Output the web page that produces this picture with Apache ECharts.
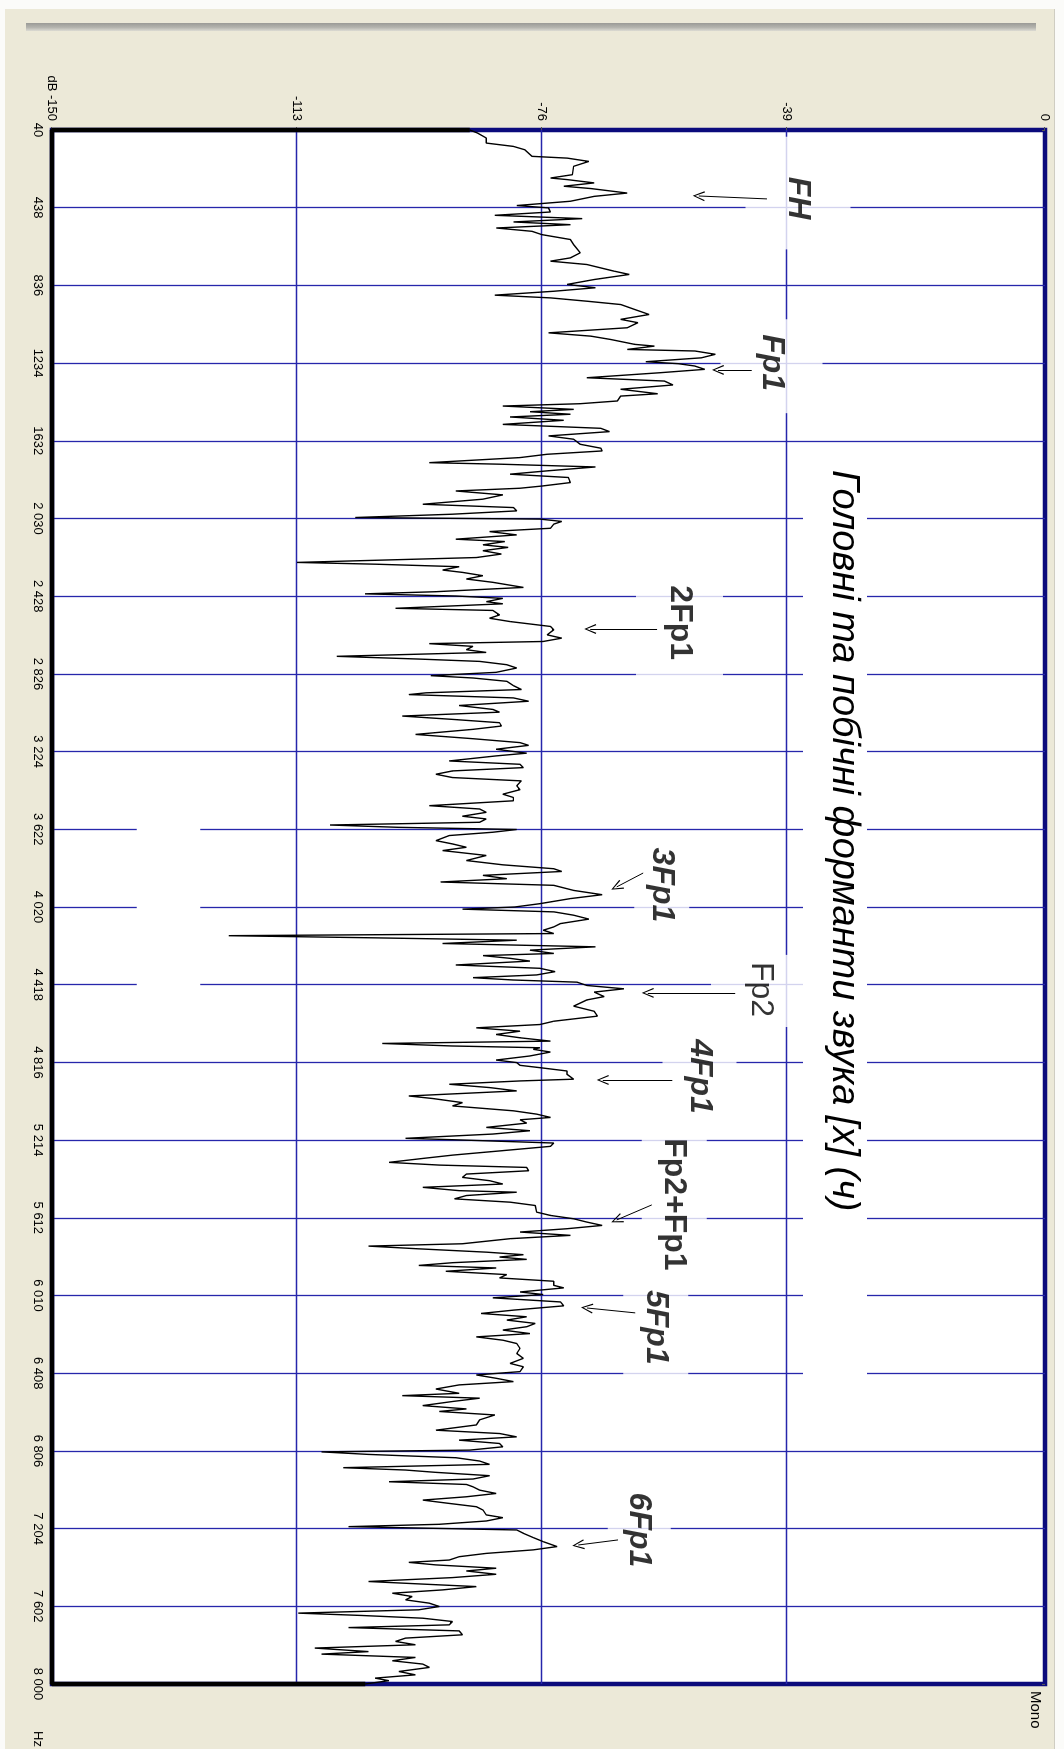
<!DOCTYPE html>
<html>
<head>
<meta charset="utf-8">
<script src="https://cdn.jsdelivr.net/npm/echarts@6/dist/echarts.min.js"></script>
<style>
  html, body { margin: 0; padding: 0; width: 1064px; height: 1749px; overflow: hidden; background: #fbfbf9; }
  #panel { position: absolute; left: 5px; top: 9px; width: 1049px; height: 1740px; background: #ece9d8; border-right: 1px solid #cfcdc2; }
  #bar { position: absolute; left: 26px; top: 23px; width: 1010px; height: 8px; background: linear-gradient(#9a9a96, #b4b4ae 55%, #dcdbd3); }
  /* the spectrum is laid out landscape and turned a quarter clockwise */
  #chart { position: absolute; left: 0; top: 0; width: 1749px; height: 1064px; transform-origin: 0 0; transform: translate(1064px, 0) rotate(90deg); }
</style>
</head>
<body>
<div id="panel"></div>
<div id="bar"></div>
<div id="chart"></div>
<script>
// Axis ticks
const freqTicks = [40, 438, 836, 1234, 1632, 2030, 2428, 2826, 3224, 3622, 4020, 4418, 4816, 5214, 5612, 6010, 6408, 6806, 7204, 7602, 8000];
const freqTickLabels = ['40', '438', '836', '1234', '1632', '2 030', '2 428', '2 826', '3 224', '3 622', '4 020', '4 418', '4 816', '5 214', '5 612', '6 010', '6 408', '6 806', '7 204', '7 602', '8 000'];
const dbTicks = [-150, -113, -76, -39, 0];
const dbTickLabels = ['dB -150', '-113', '-76', '-39', '0'];

// Spectrum of the sound: [frequency Hz, level dB]
const spectrum = [
  [40,-86.9],[56,-85.7],[81,-84.4],[107,-84.4],[124,-80.3],[141,-78.6],[175,-77.5],[184,-72.2],[201,-68.9],[226,-71.2],
  [269,-71.4],[286,-74.7],[294,-72.2],[311,-68.1],[328,-72.7],[340,-68.6],[363,-63.1],[380,-68.1],[405,-71.7],[427,-79.8],
  [439,-75.0],[460,-74.7],[477,-83.1],[494,-69.9],[511,-80.3],[525,-71.7],[542,-82.9],[559,-77.5],[576,-76.0],[601,-71.7],
  [627,-71.2],[669,-70.2],[695,-71.7],[712,-74.7],[729,-69.2],[763,-65.1],[780,-62.8],[806,-68.1],[831,-72.2],[848,-67.9],
  [866,-74.2],[886,-83.1],[900,-74.7],[917,-69.2],[934,-64.1],[959,-62.0],[985,-59.8],[1010,-64.1],[1027,-61.5],[1053,-63.1],
  [1079,-75.0],[1096,-68.6],[1113,-65.6],[1138,-62.0],[1147,-59.0],[1164,-63.1],[1172,-52.9],[1189,-49.8],[1207,-51.9],[1227,-60.3],
  [1237,-55.4],[1249,-52.9],[1266,-51.4],[1283,-58.0],[1309,-69.2],[1326,-57.5],[1346,-56.2],[1368,-64.1],[1391,-58.5],[1403,-64.1],
  [1428,-64.6],[1442,-70.2],[1454,-81.9],[1471,-71.2],[1483,-77.8],[1496,-71.7],[1510,-80.8],[1527,-72.7],[1548,-81.9],[1568,-67.1],
  [1585,-65.8],[1607,-75.0],[1624,-71.2],[1650,-70.2],[1670,-67.1],[1684,-66.9],[1701,-75.2],[1718,-79.3],[1744,-93.0],[1752,-82.1],
  [1766,-67.9],[1786,-75.2],[1803,-80.8],[1820,-72.0],[1846,-71.7],[1863,-75.8],[1875,-79.3],[1889,-89.0],[1909,-81.9],[1931,-84.9],
  [1957,-94.0],[1974,-80.3],[1991,-79.8],[2008,-89.5],[2025,-104.2],[2033,-76.3],[2045,-73.0],[2059,-74.2],[2080,-74.7],[2097,-83.9],
  [2114,-79.8],[2136,-89.0],[2148,-81.6],[2165,-84.9],[2178,-81.1],[2195,-84.9],[2212,-82.1],[2230,-85.9],[2255,-113.0],[2264,-101.2],
  [2277,-88.5],[2294,-91.0],[2306,-88.0],[2323,-84.9],[2340,-87.4],[2357,-83.4],[2383,-78.8],
  [2405,-92.0],[2416,-102.7],[2427,-89.0],[2439,-81.9],[2456,-84.4],[2467,-81.9],[2490,-98.1],[2501,-83.4],[2524,-82.4],[2541,-83.9],
  [2558,-80.8],[2583,-74.7],[2600,-74.2],[2626,-75.2],[2643,-73.0],[2660,-75.8],[2671,-93.0],[2685,-86.4],[2702,-87.4],[2716,-84.4],
  [2736,-107.0],[2750,-94.6],[2762,-85.4],[2779,-81.3],[2796,-79.8],[2818,-82.9],[2835,-92.8],[2847,-86.4],[2864,-81.3],[2886,-80.3],
  [2906,-79.1],[2923,-93.5],[2932,-96.1],[2949,-80.3],[2966,-78.0],[2988,-88.5],[3008,-83.4],[3022,-82.4],[3042,-97.1],[3059,-89.5],
  [3076,-82.4],[3093,-82.1],[3110,-86.4],[3136,-95.1],[3158,-86.4],[3178,-79.3],[3192,-78.0],[3212,-82.9],[3232,-78.3],[3246,-82.9],
  [3272,-90.0],[3289,-79.3],[3306,-78.8],[3323,-89.5],[3340,-92.0],[3357,-89.5],[3374,-79.1],[3399,-79.8],[3419,-79.3],[3442,-81.9],
  [3459,-80.3],[3476,-80.3],[3501,-93.0],[3518,-85.4],[3535,-84.4],[3555,-88.0],[3569,-84.4],[3586,-85.4],[3600,-108.0],[3612,-97.6],
  [3623,-79.8],[3637,-83.4],[3654,-90.0],[3680,-92.0],[3697,-89.5],[3714,-87.4],[3731,-91.0],[3756,-84.4],[3782,-87.4],[3804,-81.9],
  [3824,-74.2],[3838,-73.0],[3858,-84.9],[3875,-81.3],[3892,-91.3],[3909,-74.2],[3935,-71.2],[3957,-66.9],[3977,-71.7],[4003,-76.3],
  [4020,-80.1],[4031,-88.0],[4045,-74.2],[4062,-71.2],[4082,-68.9],[4105,-73.2],[4122,-74.2],[4139,-75.8],[4156,-74.2],[4167,-123.3],
  [4178,-101.2],[4190,-79.8],[4207,-91.0],[4224,-67.9],[4241,-77.8],[4258,-74.2],[4269,-84.9],[4283,-80.8],[4297,-77.8],[4317,-89.0],
  [4334,-76.3],[4351,-74.0],[4368,-76.8],[4382,-86.4],[4394,-80.3],[4405,-70.7],[4422,-69.2],[4439,-63.6],[4456,-68.1],[4479,-66.6],
  [4496,-69.2],
  [4528,-71.2],[4554,-68.1],[4579,-67.6],[4605,-74.2],[4622,-76.3],[4639,-85.9],[4656,-79.3],[4673,-82.9],[4690,-79.3],[4707,-74.7],
  [4719,-100.1],[4732,-89.5],[4741,-76.3],[4749,-77.3],[4763,-74.7],[4783,-77.8],[4804,-82.9],[4817,-79.8],[4831,-79.3],[4843,-76.3],
  [4860,-72.2],[4877,-72.2],[4902,-71.2],[4911,-79.3],[4928,-90.0],[4945,-83.9],[4962,-79.8],[4988,-96.1],[5001,-92.5],[5022,-88.0],
  [5039,-89.5],[5064,-80.3],[5081,-76.8],[5098,-74.7],[5110,-79.3],[5127,-78.3],[5149,-84.4],[5166,-77.8],[5183,-83.4],[5205,-96.6],
  [5212,-89.5],[5229,-74.2],[5246,-74.7],[5268,-81.9],[5291,-89.5],[5308,-94.0],[5328,-99.1],[5342,-91.5],[5354,-78.3],[5371,-78.0],
  [5388,-87.4],[5405,-88.0],[5422,-83.9],[5439,-81.9],[5456,-94.0],[5473,-88.5],[5481,-79.8],[5498,-87.4],[5515,-89.2],[5532,-80.8],
  [5549,-77.0],[5583,-76.8],[5600,-74.7],[5617,-71.2],[5634,-69.2],[5651,-66.9],[5668,-72.2],[5685,-79.3],[5702,-71.7],[5719,-80.8],
  [5745,-88.0],[5757,-102.2],[5771,-94.6],[5788,-84.4],[5801,-78.8],[5813,-82.4],[5825,-78.3],[5842,-89.5],[5856,-94.6],[5869,-82.9],
  [5886,-90.5],[5903,-81.3],[5920,-82.4],[5937,-74.2],[5958,-74.2],[5971,-72.7],[5992,-79.3],[6005,-75.8],[6022,-83.4],[6043,-73.2],
  [6063,-72.7],[6085,-80.3],[6102,-85.2],[6119,-78.3],[6136,-81.3],[6153,-77.0],[6170,-78.3],[6187,-81.9],[6205,-77.8],[6222,-85.9],
  [6239,-81.9],[6256,-79.8],[6281,-79.3],[6307,-79.8],[6332,-78.8],[6358,-80.8],[6375,-78.8],[6400,-79.3],[6417,-85.9],[6434,-82.9],
  [6451,-80.3],[6468,-88.5],[6489,-92.0],[6511,-88.5],[6523,-97.1],[6536,-85.4],[6553,-89.5],[6574,-94.0],[6591,-87.4],[6604,-91.5],
  [6622,-83.1],[6647,-85.4],[6673,-85.9],
  [6700,-92.0],[6717,-82.4],[6734,-79.8],[6751,-88.5],[6768,-82.4],[6785,-81.9],[6802,-86.9],[6811,-109.3],[6824,-102.2],[6841,-89.0],
  [6858,-85.4],[6875,-83.9],[6892,-106.0],[6904,-96.6],[6916,-92.0],[6933,-83.9],[6950,-86.4],[6964,-99.1],[6978,-87.4],[6990,-86.4],
  [7007,-85.4],[7024,-82.9],[7041,-87.4],[7058,-94.0],[7075,-90.0],[7092,-85.9],[7109,-84.9],[7134,-84.4],[7148,-81.9],[7165,-84.4],
  [7182,-91.5],[7194,-105.2],[7211,-79.8],[7228,-78.8],[7250,-77.3],[7271,-75.8],[7296,-73.7],[7313,-77.3],[7331,-84.4],[7348,-88.5],
  [7365,-90.0],[7377,-96.1],[7390,-92.0],[7407,-82.9],[7421,-87.4],[7438,-82.9],[7455,-89.5],[7475,-102.2],[7489,-93.5],[7501,-85.9],
  [7518,-91.0],[7535,-98.6],[7552,-95.6],[7569,-96.6],[7586,-93.0],[7603,-91.5],[7620,-94.6],[7637,-112.8],[7649,-103.2],[7663,-94.0],
  [7680,-89.5],[7697,-90.0],[7711,-105.2],[7728,-88.5],[7748,-88.0],[7765,-96.6],[7782,-98.1],[7799,-95.1],[7816,-110.3],[7834,-102.2],
  [7847,-109.3],[7864,-95.1],[7881,-98.6],[7898,-94.0],[7915,-93.0],[7936,-97.6],[7953,-95.1],[7970,-101.2],[7983,-99.1],[8000,-102.7]
];

// Formant notes: text, where the note sits (Hz, dB)
const noteText = ['FH', 'Fp1', '2Fp1', '3Fp1', 'Fp2', '4Fp1', 'Fp2+Fp1', '5Fp1', '6Fp1'];
const noteHz = [363, 1250, 2615, 3907, 4450, 4896, 5546, 6191, 7211];
const noteDb = [-37.3, -41.3, -55.2, -57.9, -42.9, -52.2, -56.0, -58.8, -61.3];
// Arrows from each note toward its peak: [Hz, dB] start and tip
const arrowFrom = [[393, -42.0], [1269, -44.3], [2596, -58.6], [3846, -60.7], [4460, -46.8], [4906, -56.3], [5546, -59.4], [6099, -61.9], [7262, -64.5]];
const arrowTo = [[378, -52.3], [1269, -49.4], [2596, -68.7], [3917, -64.7], [4460, -60.0], [4906, -66.8], [5623, -64.7], [6074, -69.2], [7288, -70.5]];

const TITLE = 'Головні та побічні форманти звука [х] (ч)';

// ---- styling ----
const FONT = "'Liberation Sans', Arial, sans-serif";
const NAVY = '#0b0b7c';
const GRID_BLUE = '#2626ab';
// white box round each note: [top, right, bottom, left]
const notePad = [[3, 30, 70, 40], [44, 22, 26, 15], [3, 30, 52, 10], [3, 8, 20, 8], [17, 10, 51, 7], [0, 8, 42, 5], [4, 8, 29, 7], [5, 22, 28, 15], [2, 8, 29, 8]];
const noteItalic = [true, true, false, true, false, true, false, true, true];
const noteBold = [true, true, true, true, false, true, true, true, true];
// open arrow head
const ARROW_HEAD = 'path://M5,0 L10,12 L8.8,12.4 L5,2.6 L1.2,12.4 L0,12 Z';

const fMin = freqTicks[0], fMax = freqTicks[freqTicks.length - 1];
const dMin = dbTicks[0], dMax = dbTicks[dbTicks.length - 1];
const first = spectrum[0], last = spectrum[spectrum.length - 1];

const chart = echarts.init(document.getElementById('chart'), null, { renderer: 'canvas', width: 1749, height: 1064 });

const gridLines = []
  .concat(freqTicks.slice(1, -1).map(f => ({ xAxis: f })))
  .concat(dbTicks.slice(1, -1).map(d => ({ yAxis: d })));

const notesData = noteText.map((t, i) => ({
  value: [noteHz[i], noteDb[i]],
  name: t,
  label: {
    padding: notePad[i],
    fontStyle: noteItalic[i] ? 'italic' : 'normal',
    fontWeight: noteBold[i] ? 'bold' : 'normal'
  }
}));

chart.setOption({
  animation: false,
  backgroundColor: 'transparent',
  title: {
    text: TITLE,
    left: 452, top: 197,
    padding: [4, 235, 22, 18],
    backgroundColor: '#fff',
    textStyle: { fontFamily: FONT, fontStyle: 'italic', fontWeight: 'normal', fontSize: 38, color: '#000' }
  },
  grid: { left: 130, right: 65, top: 19, bottom: 52, show: true, backgroundColor: '#fff', borderColor: NAVY, borderWidth: 4.5 },
  xAxis: {
    type: 'value', min: fMin, max: fMax,
    axisLine: { show: false },
    splitLine: { show: false },
    axisTick: { show: true, customValues: freqTicks, length: 3, lineStyle: { color: '#555', width: 1 } },
    axisLabel: {
      customValues: freqTicks,
      formatter: v => freqTickLabels[freqTicks.indexOf(v)],
      color: '#000', fontFamily: FONT, fontSize: 13, margin: 8
    }
  },
  yAxis: {
    type: 'value', min: dMin, max: dMax,
    axisLine: { show: false },
    splitLine: { show: false },
    axisTick: { show: true, customValues: dbTicks, length: 3, lineStyle: { color: '#555', width: 1 } },
    axisLabel: {
      customValues: dbTicks,
      formatter: v => dbTickLabels[dbTicks.indexOf(v)],
      color: '#000', fontFamily: FONT, fontSize: 13, margin: 9
    }
  },
  graphic: [
    { type: 'text', left: 1691, top: 21, style: { text: 'Mono', font: '15px ' + FONT, fill: '#000' } },
    { type: 'text', left: 1731, top: 1020, style: { text: 'Hz', font: '13px ' + FONT, fill: '#000' } }
  ],
  series: [
    {
      name: 'grid', type: 'line', data: [], z: 1, silent: true,
      markLine: {
        z: 2, silent: true, symbol: 'none', animation: false,
        label: { show: false },
        lineStyle: { color: GRID_BLUE, width: 1.3, type: 'solid' },
        emphasis: { disabled: true },
        data: gridLines
      }
    },
    {
      name: 'blank', type: 'line', data: [], z: 2, silent: true,
      markArea: {
        z: 3, silent: true, itemStyle: { color: '#fff' }, label: { show: false },
        emphasis: { disabled: true },
        data: [[{ coord: [3450, -137.2] }, { coord: [4600, -127.6] }]]
      }
    },
    {
      name: 'edge', type: 'line', z: 4, silent: true, clip: false,
      symbol: 'none',
      lineStyle: { color: '#000', width: 4.5 },
      data: [[last[0], last[1]], [fMax, dMin], [fMin, dMin], [first[0], first[1]]]
    },
    {
      name: 'spectrum', type: 'line', z: 4, silent: true,
      symbol: 'none',
      lineStyle: { color: '#000', width: 1.4 },
      data: spectrum
    },
    {
      name: 'notes', type: 'scatter', z: 6, silent: true,
      symbolSize: 0,
      label: {
        show: true, position: 'inside',
        formatter: p => p.name,
        fontFamily: FONT, fontSize: 32, color: '#000',
        backgroundColor: '#fff'
      },
      data: notesData
    },
    {
      name: 'arrows', type: 'line', data: [], z: 7, silent: true,
      markLine: {
        z: 8, silent: true, animation: false,
        symbol: ['none', ARROW_HEAD],
        symbolSize: [10, 12],
        label: { show: false },
        lineStyle: { color: '#000', width: 1, type: 'solid' },
        emphasis: { disabled: true },
        data: arrowFrom.map((a, i) => [{ coord: a }, { coord: arrowTo[i] }])
      }
    }
  ]
});
</script>
</body>
</html>
